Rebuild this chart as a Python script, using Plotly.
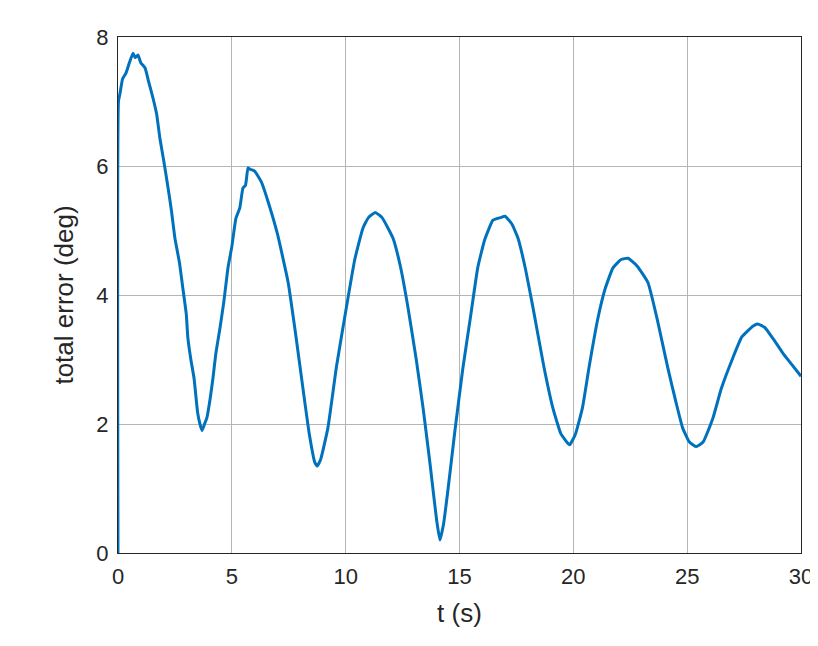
import plotly.graph_objects as go

# values
t = [0.0, 0.02, 0.09, 0.2, 0.35, 0.5, 0.66, 0.75, 0.88, 1.0, 1.19, 1.35, 1.54, 1.7, 1.84,
     2.0, 2.2, 2.35, 2.5, 2.7, 2.85, 3.0, 3.07, 3.2, 3.34, 3.5, 3.6, 3.69, 3.8, 3.9,
     4.05, 4.17, 4.3, 4.48, 4.65, 4.83, 5.0, 5.18, 5.35, 5.49, 5.6, 5.71, 5.8, 6.0,
     6.3, 6.59, 7.0, 7.47, 7.8, 8.12, 8.4, 8.65, 8.75, 8.9, 9.22, 9.6, 10.1, 10.4, 10.76,
     11.0, 11.3, 11.6, 12.08, 12.4, 12.74, 13.1, 13.4, 13.7, 13.88, 14.0, 14.14, 14.3,
     14.5, 14.8, 15.15, 15.5, 15.8, 16.1, 16.47, 16.8, 17.0, 17.3, 17.57, 17.9, 18.23,
     18.7, 19.1, 19.45, 19.76, 19.85, 20.1, 20.4, 20.7, 21.08, 21.4, 21.74, 22.1, 22.4,
     22.8, 23.28, 23.7, 24.15, 24.5, 24.8, 25.1, 25.4, 25.7, 26.13, 26.5, 27.0, 27.4,
     27.9, 28.1, 28.4, 28.76, 29.2, 29.6, 30.0]
err = [0.0, 7.0, 7.13, 7.35, 7.44, 7.6, 7.75, 7.68, 7.72, 7.6, 7.52, 7.3, 7.05, 6.8, 6.43,
       6.1, 5.66, 5.3, 4.88, 4.5, 4.1, 3.7, 3.33, 3.0, 2.71, 2.17, 2.0, 1.9, 2.0, 2.09,
       2.4, 2.71, 3.1, 3.49, 3.9, 4.42, 4.75, 5.19, 5.35, 5.66, 5.7, 5.97, 5.95, 5.92,
       5.75, 5.45, 4.95, 4.2, 3.4, 2.56, 1.85, 1.4, 1.35, 1.45, 1.94, 2.9, 3.95, 4.55, 5.04,
       5.2, 5.28, 5.2, 4.88, 4.45, 3.8, 3.0, 2.25, 1.4, 0.85, 0.5, 0.2, 0.45,
       1.0, 1.9, 2.87, 3.7, 4.42, 4.85, 5.16, 5.2, 5.22, 5.1, 4.88, 4.4, 3.8,
       2.9, 2.25, 1.85, 1.7, 1.68, 1.85, 2.25, 2.9, 3.64, 4.1, 4.42, 4.55, 4.57,
       4.45, 4.19, 3.6, 2.87, 2.35, 1.94, 1.72, 1.65, 1.72, 2.09, 2.55, 3.02, 3.35,
       3.52, 3.55, 3.5, 3.33, 3.1, 2.92, 2.74]

fig = go.Figure()
fig.add_trace(go.Scatter(x=t, y=err, mode='lines', line_shape='spline',
                         line=dict(color='#0072BD', width=3, smoothing=0.4), showlegend=False))

axis = dict(showline=True, linecolor='#262626', linewidth=1, mirror=True,
            showgrid=True, gridcolor='#b5b5b5', gridwidth=1, zeroline=False,
            automargin=False, ticks='outside', ticklen=4, tickcolor='rgba(0,0,0,0)',
            tickfont=dict(size=22, color='#262626'))
fig.update_xaxes(range=[0, 30], dtick=5, title=dict(text='t (s)', font=dict(size=26, color='#262626')), **axis)
fig.update_yaxes(range=[0, 8], dtick=2, title=dict(text='total error (deg)', font=dict(size=26, color='#262626')), **axis)
fig.update_layout(width=818, height=646, plot_bgcolor='white', paper_bgcolor='white',
                  font=dict(family='Liberation Sans'),
                  margin=dict(l=110, r=25, t=29, b=101))
fig.write_html("out.html")
